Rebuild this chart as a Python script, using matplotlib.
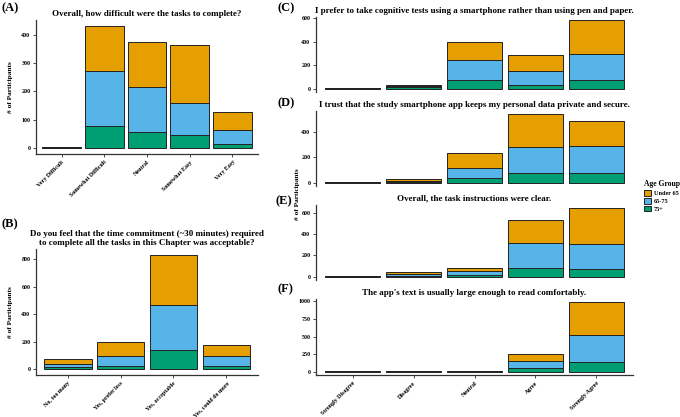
import matplotlib.pyplot as plt
import numpy as np

plt.rcParams['font.family'] = ['Liberation Serif', 'DejaVu Serif']
plt.rcParams['font.weight'] = 'bold'

# age groups, bottom to top of each stack
groups = ["75+", "65-75", "Under 65"]
colors = {"75+": "#009E73", "65-75": "#56B4E9", "Under 65": "#E69F00"}

# (A)
a_cats = ["Very Difficult", "Somewhat Difficult", "Neutral", "Somewhat Easy", "Very Easy"]
a_75 = [1, 77, 55, 45, 13]
a_6575 = [1, 193, 160, 115, 51]
a_u65 = [1, 160, 158, 204, 62]

# (B)
b_cats = ["No, too many", "Yes, prefer less", "Yes, acceptable", "Yes, could do more"]
b_75 = [17, 24, 138, 22]
b_6575 = [24, 75, 327, 73]
b_u65 = [32, 97, 368, 84]

likert = ["Strongly Disagree", "Disagree", "Neutral", "Agree", "Strongly Agree"]

# (C)
c_75 = [1, 10, 69, 30, 72]
c_6575 = [1, 9, 173, 122, 225]
c_u65 = [1, 8, 155, 134, 283]

# (D)
d_75 = [1, 6, 39, 75, 75]
d_6575 = [1, 8, 77, 209, 214]
d_u65 = [1, 15, 119, 256, 197]

# (E)
e_75 = [1, 9, 18, 82, 73]
e_6575 = [1, 18, 30, 235, 228]
e_u65 = [1, 19, 31, 210, 338]

# (F)
f_75 = [1, 2, 4, 46, 137]
f_6575 = [1, 2, 3, 99, 388]
f_u65 = [1, 2, 4, 109, 461]

W, H = 680, 417
fig = plt.figure(figsize=(6.8, 4.17), dpi=100)


def px_axes(x0, y0, x1, y1):
    return fig.add_axes([x0 / W, 1 - y1 / H, (x1 - x0) / W, (y1 - y0) / H])


def stacked(ax, cats, series, title, xlabels=True, bottom_spine=True, yticks=None):
    x = np.arange(len(cats))
    base = np.zeros(len(cats))
    for g, vals in zip(groups, series):
        vals = np.array(vals, dtype=float)
        ax.bar(x, vals, bottom=base, width=0.9, color=colors[g],
               edgecolor="#222222", linewidth=0.7, label=g)
        base += vals
    top = base.max()
    ax.set_ylim(-0.05 * top, top * 1.05)
    ax.set_xlim(-0.6, len(cats) - 0.4)
    for s in ["top", "right"]:
        ax.spines[s].set_visible(False)
    ax.spines["left"].set_linewidth(0.9)
    ax.spines["left"].set_color("#333333")
    ax.spines["bottom"].set_linewidth(0.9)
    ax.spines["bottom"].set_color("#333333")
    if yticks is not None:
        ax.set_yticks(yticks)
    ax.tick_params(axis="y", labelsize=4.3, length=2, width=0.5, pad=2)
    ax.set_xticks(x)
    if xlabels:
        ax.set_xticklabels(cats, rotation=45, ha="right", rotation_mode="anchor",
                           fontsize=4.3)
        ax.tick_params(axis="x", length=2, width=0.5, pad=2)
    else:
        ax.set_xticklabels([])
        ax.tick_params(axis="x", length=0)
    if not bottom_spine:
        ax.spines["bottom"].set_visible(False)
    ax.set_title(title, fontsize=6.5, fontweight="bold", pad=3)


axA = px_axes(36, 20, 258, 154)
stacked(axA, a_cats, [a_75, a_6575, a_u65],
        "Overall, how difficult were the tasks to complete?", yticks=[0, 100, 200, 300, 400])
axA.set_ylabel("# of Participants", fontsize=5.3, fontweight="bold", labelpad=6)

axB = px_axes(36, 249, 258, 375)
stacked(axB, b_cats, [b_75, b_6575, b_u65],
        "Do you feel that the time commitment (~30 minutes) required\n"
        "to complete all the tasks in this Chapter was acceptable?",
        yticks=[0, 200, 400, 600, 800])
axB.set_ylabel("# of Participants", fontsize=5.3, fontweight="bold", labelpad=6)

axC = px_axes(316, 17, 633, 92)
stacked(axC, likert, [c_75, c_6575, c_u65],
        "I prefer to take cognitive tests using a smartphone rather than using pen and paper.",
        xlabels=False, bottom_spine=False, yticks=[0, 200, 400, 600])

axD = px_axes(316, 111, 633, 186)
stacked(axD, likert, [d_75, d_6575, d_u65],
        "I trust that the study smartphone app keeps my personal data private and secure.",
        xlabels=False, bottom_spine=False, yticks=[0, 200, 400])

axE = px_axes(316, 205, 633, 280)
stacked(axE, likert, [e_75, e_6575, e_u65],
        "Overall, the task instructions were clear.",
        xlabels=False, bottom_spine=False, yticks=[0, 200, 400, 600])

axF = px_axes(316, 299, 633, 375)
stacked(axF, likert, [f_75, f_6575, f_u65],
        "The app's text is usually large enough to read comfortably.",
        yticks=[0, 250, 500, 750, 1000])

fig.text(298 / W, 1 - 194 / H, "# of Participants", rotation=90, fontsize=5.3,
         fontweight="bold", ha="center", va="center")

for lab, x, y in [("(A)", 2, 8), ("(B)", 2, 224), ("(C)", 278, 8),
                  ("(D)", 278, 103), ("(E)", 276, 201), ("(F)", 277, 289)]:
    fig.text(x / W, 1 - y / H, lab, fontsize=9, fontweight="bold", ha="left", va="center")

# legend
handles, labels = axF.get_legend_handles_labels()
leg = fig.legend(handles[::-1], labels[::-1], title="Age Group", loc="upper left",
                 bbox_to_anchor=(640 / W, 1 - 176 / H), frameon=False, fontsize=4.5,
                 title_fontsize=5.5, handlelength=1.0, handleheight=1.0,
                 handletextpad=0.5, labelspacing=0.3, borderpad=0.2)
leg.get_title().set_fontweight("bold")
leg._legend_box.align = "left"

fig.savefig("out.png", dpi=100)
